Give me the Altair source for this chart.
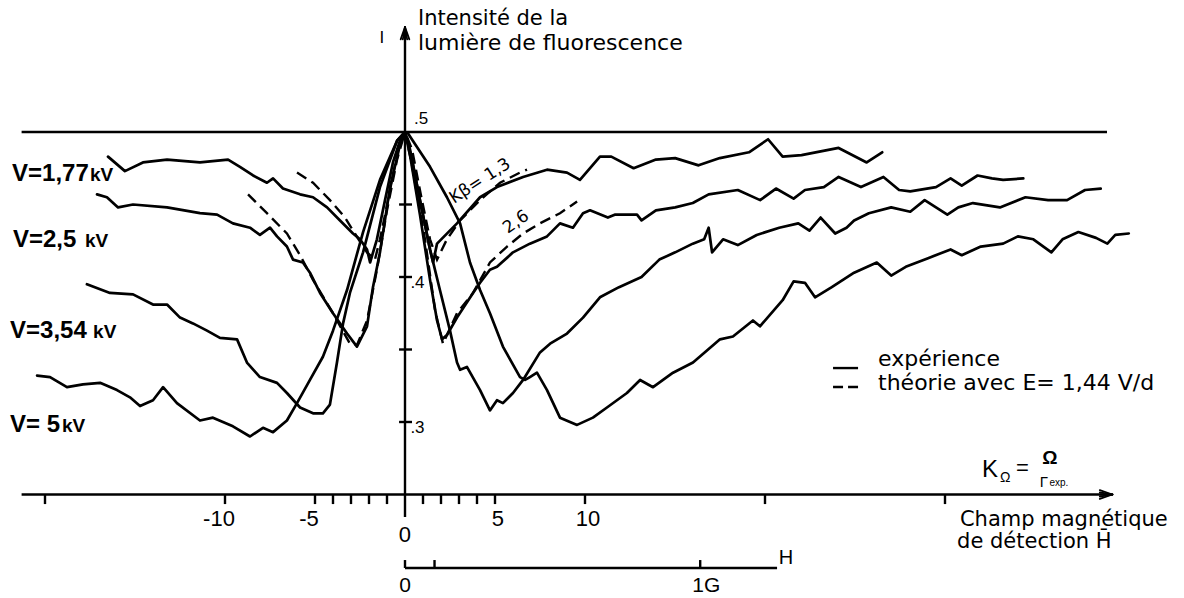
import altair as alt
import pandas as pd

# Fluorescence intensity I versus the reduced detection field K_Omega = Omega / Gamma_exp.
# Measured recordings, one per accelerating voltage (left wing, peak, right wing).
v177_k = [-16.5, -15.56, -14.56, -13.22, -11.39, -9.83, -9.17, -8.44, -7.67, -7.33, -6.78, -5.83,
          -5.11, -4.33, -3.61, -2.89, -2.5, -2.11, -1.94, -1.56, -1.11, -0.67, -0.28, 0, 0.28, 0.72,
          1.11, 1.39, 1.56, 1.78, 2.89, 4.17, 5.11, 6.56, 7.89, 9.0, 9.72, 10.83, 11.46, 12.7, 13.94,
          15.01, 16.31, 17.49, 19.11, 20.17, 20.98, 22.03, 24.09, 25.65, 26.51]
v177_i = [0.483, 0.473, 0.479, 0.481, 0.479, 0.481, 0.476, 0.470, 0.465, 0.468, 0.461, 0.457,
          0.455, 0.448, 0.439, 0.430, 0.426, 0.419, 0.410, 0.426, 0.453, 0.479, 0.494, 0.500, 0.488, 0.460,
          0.436, 0.419, 0.410, 0.423, 0.437, 0.455, 0.462, 0.469, 0.474, 0.472, 0.467, 0.483, 0.483, 0.475, 0.481,
          0.482, 0.477, 0.482, 0.486, 0.495, 0.483, 0.484, 0.489, 0.479, 0.486]

v250_k = [-17.11, -16.56, -15.94, -15.11, -13.22, -11.39, -10.44, -9.56, -8.61, -8.06, -7.5, -7.11,
          -6.56, -6.22, -5.67, -5.28, -4.72, -4.0, -3.22, -2.67, -2.11, -1.78, -1.39, -0.83, -0.28, 0,
          0.28, 0.83, 1.39, 1.78, 2.06, 2.33, 2.89, 3.78, 4.17, 4.72, 5.11, 6.0, 6.94, 7.89, 8.61, 9.33,
          9.89, 10.28, 11.27, 11.65, 12.89, 13.14, 13.94, 15.01, 15.99, 16.87, 18.49, 19.73, 20.61, 21.59,
          22.22, 23.27, 24.09, 25.33, 26.58, 27.45, 28.07, 29.5, 30.31, 30.93, 31.81, 32.61, 33.23, 34.35]
v250_i = [0.457, 0.455, 0.448, 0.450, 0.448, 0.444, 0.443, 0.437, 0.434, 0.429, 0.434, 0.428,
          0.421, 0.412, 0.410, 0.403, 0.389, 0.375, 0.361, 0.352, 0.366, 0.393, 0.417, 0.462, 0.491, 0.500,
          0.484, 0.443, 0.398, 0.370, 0.357, 0.360, 0.372, 0.389, 0.396, 0.405, 0.407, 0.417, 0.423, 0.428, 0.437, 0.434,
          0.444, 0.446, 0.441, 0.443, 0.443, 0.439, 0.446, 0.448, 0.451, 0.457, 0.460, 0.453, 0.461, 0.454,
          0.460, 0.462, 0.469, 0.462, 0.469, 0.460, 0.459, 0.462, 0.468, 0.463, 0.470, 0.468, 0.467, 0.468]

v354_k = [-17.67, -16.39, -15.11, -14.0, -13.22, -12.5, -11.78, -11.0, -10.28, -9.33, -8.78, -8.06,
          -7.11, -6.56, -5.83, -5.11, -4.56, -4.17, -3.78, -3.44, -3.06, -2.33, -1.39, -0.44, 0, 0.39,
          0.83, 1.39, 1.94, 2.5, 2.89, 3.06, 3.44, 4.17, 4.72, 5.11, 5.44, 6.0, 6.56, 7.5, 8.06, 9.0,
          9.89, 10.83, 11.89, 13.14, 14.13, 15.01, 15.99, 16.62, 16.87, 17.06, 17.67, 18.49, 19.54, 20.79,
          21.85, 22.47, 23.09, 23.9, 24.53, 24.95, 25.77, 27.01, 28.07, 28.87, 30.13, 30.74, 31.55, 33.05,
          34.47, 35.73, 36.78, 37.78, 38.65]
v354_i = [0.395, 0.389, 0.388, 0.381, 0.381, 0.372, 0.368, 0.363, 0.358, 0.357, 0.341, 0.331,
          0.327, 0.320, 0.310, 0.306, 0.306, 0.312, 0.341, 0.368, 0.389, 0.417, 0.462, 0.494, 0.500, 0.481,
          0.453, 0.419, 0.391, 0.363, 0.341, 0.336, 0.338, 0.322, 0.308, 0.315, 0.313, 0.320, 0.329, 0.348, 0.354, 0.361,
          0.372, 0.386, 0.393, 0.400, 0.412, 0.417, 0.423, 0.426, 0.434, 0.417, 0.426, 0.422, 0.429, 0.434,
          0.437, 0.432, 0.441, 0.430, 0.434, 0.439, 0.444, 0.448, 0.445, 0.453, 0.443, 0.448, 0.451, 0.448,
          0.455, 0.453, 0.453, 0.460, 0.461]

v500_k = [-20.44, -19.72, -18.78, -17.89, -16.94, -16.0, -15.28, -14.72, -14.0, -13.44, -12.67, -11.39,
          -10.67, -9.56, -8.61, -7.89, -7.33, -6.56, -6.0, -5.28, -4.56, -4.0, -3.22, -2.33, -1.39, -0.44,
          0, 0.17, 1.39, 2.33, 3.06, 3.61, 4.17, 4.72, 5.44, 6.39, 6.67, 6.94, 7.33, 7.89, 8.61, 9.56,
          10.44, 11.22, 12.33, 13.06, 13.78, 14.89, 16.0, 17.5, 18.22, 19.33, 19.72, 20.98, 21.59, 22.22,
          22.78, 23.71, 24.95, 26.21, 27.01, 27.82, 29.06, 30.31, 30.93, 31.99, 33.23, 34.05, 34.91, 35.91,
          36.53, 37.41, 38.39, 39.02, 39.46, 40.21]
v500_i = [0.332, 0.331, 0.324, 0.326, 0.327, 0.322, 0.317, 0.311, 0.315, 0.324, 0.313, 0.301,
          0.303, 0.297, 0.290, 0.296, 0.293, 0.301, 0.313, 0.329, 0.345, 0.363, 0.391, 0.431, 0.467, 0.494,
          0.500, 0.499, 0.476, 0.455, 0.437, 0.410, 0.391, 0.375, 0.352, 0.331, 0.329, 0.331, 0.334, 0.322, 0.303, 0.298,
          0.303, 0.310, 0.320, 0.329, 0.324, 0.334, 0.341, 0.357, 0.359, 0.370, 0.366, 0.384, 0.397, 0.396,
          0.386, 0.393, 0.403, 0.410, 0.401, 0.407, 0.413, 0.419, 0.415, 0.421, 0.423, 0.428, 0.426, 0.417,
          0.426, 0.431, 0.427, 0.423, 0.429, 0.430]

# Theory with E = 1,44 V/d for K_beta = 1,3 and K_beta = 2,6
kb13_k = [-6.0, -5.11, -4.17, -3.33, -2.89, -2.11, -1.67, -1.39, -0.83, -0.39, 0, 0.39, 0.94, 1.39,
          1.78, 2.33, 3.06, 4.17, 5.28, 6.39, 6.78]
kb13_i = [0.472, 0.465, 0.453, 0.441, 0.432, 0.417, 0.412, 0.426, 0.460, 0.488, 0.500, 0.488, 0.453, 0.426,
          0.412, 0.426, 0.439, 0.453, 0.465, 0.472, 0.474]
kb26_k = [-8.72, -7.67, -6.56, -5.83, -5.11, -4.0, -3.06, -2.67, -2.11, -1.56, -1.0, -0.44, 0, 0.39,
          1.11, 1.67, 2.11, 2.89, 3.78, 4.72, 5.67, 6.56, 7.5, 8.61, 9.56]
kb26_i = [0.457, 0.444, 0.430, 0.415, 0.398, 0.375, 0.354, 0.353, 0.370, 0.405, 0.446, 0.481, 0.500, 0.477,
          0.426, 0.377, 0.354, 0.375, 0.389, 0.410, 0.421, 0.430, 0.437, 0.444, 0.452]

voltage_labels = ["V=1,77", "V=2,5", "V=3,54", "V= 5"]

x_ticks = [-20, -10, -5, -4, -3, -2, -1, 1, 2, 3, 4, 5, 10, 20, 30]
x_labels_neg = [-10, -5]
x_labels_pos = [5, 10]
y_ticks = [0.45, 0.40, 0.35, 0.30]
y_label_vals = [0.4, 0.3]
y_label_text = [".4", ".3"]
h_ticks_gauss = [0, 0.1, 1.0]
K_PER_GAUSS = 16.4

HAND = "DejaVu Sans"
PRINT = "Liberation Sans"

X_SCALE = alt.Scale(domain=[-22.5, 43.278], nice=False, zero=False)
Y_SCALE = alt.Scale(domain=[0.17862, 0.59103], nice=False, zero=False)


def ex(field="K"):
    return alt.X(f"{field}:Q", scale=X_SCALE, axis=None)


def ey(field="I"):
    return alt.Y(f"{field}:Q", scale=Y_SCALE, axis=None)


def curves(pairs):
    rows = []
    for name, ks, vs in pairs:
        for n, (k, v) in enumerate(zip(ks, vs, strict=True)):
            rows.append({"K": k, "I": v, "s": name, "o": n})
    return pd.DataFrame(rows)


def segments(rows, width=2.4, dash=None, cap="butt"):
    df = pd.DataFrame(rows, columns=["k0", "k1", "i0", "i1"])
    kw = dict(color="black", strokeWidth=width, strokeCap=cap)
    if dash:
        kw["strokeDash"] = dash
    return alt.Chart(df).mark_rule(**kw).encode(
        x=ex("k0"), x2="k1:Q", y=ey("i0"), y2="i1:Q")


def text(k, i, s, size, font=HAND, align="center", baseline="middle", angle=0,
         weight="normal", dx=0, dy=0):
    df = pd.DataFrame({"K": [k], "I": [i], "t": [s]})
    return alt.Chart(df).mark_text(
        font=font, fontSize=size, align=align, baseline=baseline, angle=angle,
        fontWeight=weight, dx=dx, dy=dy, color="black").encode(
        x=ex(), y=ey(), text="t:N")


measured = curves([("1,77", v177_k, v177_i), ("2,5", v250_k, v250_i),
                   ("3,54", v354_k, v354_i), ("5", v500_k, v500_i)])
theory = curves([("1,3", kb13_k, kb13_i), ("2,6", kb26_k, kb26_i)])

solid = alt.Chart(measured).mark_line(color="black", strokeWidth=2.7, strokeJoin="round",
                                      strokeCap="round").encode(
    x=ex(), y=ey(), detail="s:N", order="o:Q")
dashed = alt.Chart(theory).mark_line(color="black", strokeWidth=2.4, strokeDash=[11, 6]).encode(
    x=ex(), y=ey(), detail="s:N", order="o:Q")

AXIS_I = 0.25
H_AXIS_I = 0.1993
TOP_I = 0.5724      # tip of the intensity arrow
RIGHT_K = 39.3      # tip of the K_Omega arrow

frame = segments([
    (-21.3, 39.0, 0.5, 0.5),                 # I = 0.5 reference line
    (-21.3, RIGHT_K - 0.3, AXIS_I, AXIS_I),  # K_Omega axis
    (0, 0, 0.2345, TOP_I - 0.002),           # intensity axis
    (0, 20.67, H_AXIS_I, H_AXIS_I),          # magnetic field scale
])
x_tick_marks = segments([(k, k, AXIS_I, 0.2434) for k in x_ticks])
y_tick_marks = segments([(-0.33, 0.39, v, v) for v in y_ticks])
h_tick_marks = segments([(g * K_PER_GAUSS, g * K_PER_GAUSS, H_AXIS_I, 0.2048) for g in h_ticks_gauss])

# arrowheads drawn as narrow closed wedges of short strokes
up_head = segments([(0, dk, TOP_I, TOP_I - 0.0085) for dk in (-0.24, -0.12, 0.0, 0.12, 0.24)],
                   width=1.8, cap="round")
right_head = segments([(RIGHT_K, RIGHT_K - 0.7, AXIS_I, AXIS_I + di)
                       for di in (-0.003, -0.0015, 0.0, 0.0015, 0.003)], width=1.8, cap="round")

layers = [frame, x_tick_marks, y_tick_marks, h_tick_marks, up_head, right_head, solid, dashed]

# axis numbering
for v in x_labels_neg:
    layers.append(text(v, 0.2331, str(v), 22, font=PRINT, dx=-6))
for v in x_labels_pos:
    layers.append(text(v, 0.2331, str(v), 22, font=PRINT, dx=3))
layers.append(text(0, 0.2221, "0", 22, font=PRINT))
layers.append(text(0.5, 0.5, ".5", 17, font=PRINT, align="left", dy=-13))
for v, s in zip(y_label_vals, y_label_text):
    layers.append(text(0.3, v, s, 17, font=PRINT, align="left", dy=6))
layers.append(text(0, 0.1828, "0", 21, font=PRINT, baseline="alphabetic"))
layers.append(text(1.0 * K_PER_GAUSS, 0.1828, "1G", 21, font=PRINT, baseline="alphabetic", dx=6))
layers.append(text(21.17, 0.2062, "H", 20, font=PRINT))

# voltage labels
v_pos = [(-21.83, -17.5, 0.4662), (-21.78, -17.78, 0.4207),
         (-21.94, -17.33, 0.3579), (-21.94, -19.06, 0.2931)]
for lab, (k0, k1, i) in zip(voltage_labels, v_pos):
    layers.append(text(k0, i, lab, 24, font=PRINT, align="left", baseline="alphabetic", weight="bold"))
    layers.append(text(k1, i, "kV", 19, font=PRINT, align="left", baseline="alphabetic", weight="bold"))

# axis titles
layers.append(text(-1.28, 0.5648, "I", 16))
layers.append(text(0.72, 0.5738, "Intensité de la", 21, align="left", baseline="alphabetic"))
layers.append(text(0.72, 0.5566, "lumière de fluorescence", 22, align="left", baseline="alphabetic"))
layers.append(text(30.83, 0.2283, "Champ magnétique", 21, align="left", baseline="alphabetic"))
layers.append(text(30.67, 0.2131, "de détection H\u0304", 21, align="left", baseline="alphabetic"))

# K_Omega = Omega / Gamma_exp
layers.append(text(32.5, 0.2669, "K", 24, font=PRINT))
layers.append(text(33.35, 0.2617, "Ω", 14, font=PRINT))
layers.append(text(34.3, 0.2683, "=", 22, font=PRINT))
layers.append(text(35.83, 0.2752, "Ω", 19, font=PRINT, weight="bold"))
layers.append(text(35.5, 0.2586, "Γ", 15, font=PRINT))
layers.append(text(35.8, 0.2579, "exp.", 10, font=PRINT, align="left"))

# curve annotations
layers.append(text(4.17, 0.4662, "Kβ= 1,3", 17, angle=327))
layers.append(text(6.17, 0.4379, "2,6", 17, angle=325))

# legend
layers.append(segments([(23.78, 25.17, 0.3372, 0.3372)]))
layers.append(segments([(23.78, 25.17, 0.3241, 0.3241)], dash=[10, 5]))
layers.append(text(26.28, 0.3386, "expérience", 22, align="left", baseline="alphabetic"))
layers.append(text(26.28, 0.3221, "théorie avec E= 1,44 V/d", 22, align="left", baseline="alphabetic"))

chart = alt.layer(*layers).properties(
    width=1184, height=598, padding=0,
    autosize=alt.AutoSizeParams(type="none"),
).configure_view(strokeWidth=0)

chart.save("out.html", embed_options={"renderer": "svg", "actions": False})
